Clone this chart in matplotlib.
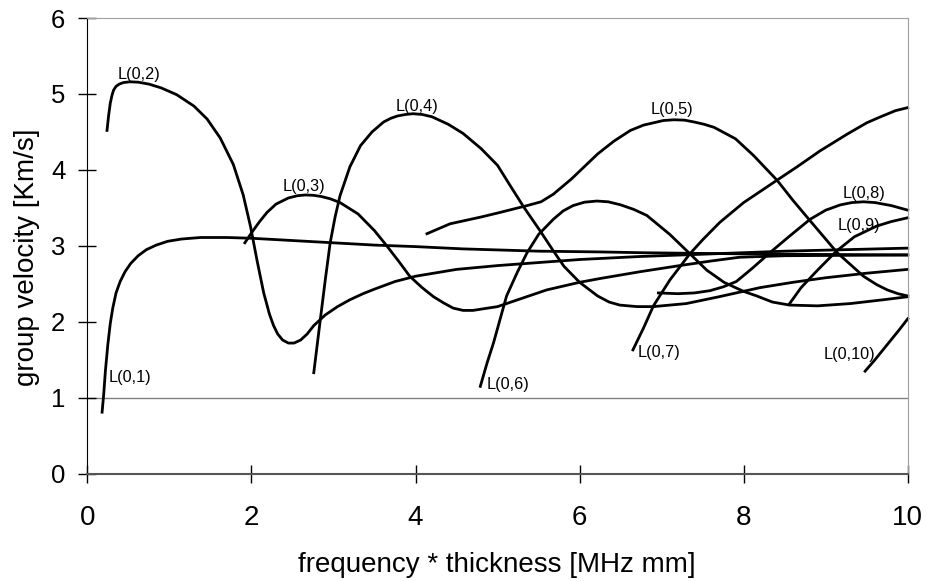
import matplotlib
matplotlib.use("Agg")
import matplotlib.pyplot as plt

plt.rcParams['font.family'] = ['Liberation Sans', 'DejaVu Sans']

# кривые групповой скорости, точки
x01 = [0.18, 0.2, 0.22, 0.25, 0.28, 0.31, 0.35, 0.4, 0.46, 0.53, 0.62, 0.72, 0.84, 0.98, 1.15, 1.38, 1.7, 2.0, 2.5, 3.0, 3.5, 4.0, 4.58, 5.5, 6.25, 6.74, 7.5, 8.5, 10]
y01 = [0.81, 1.05, 1.35, 1.7, 1.98, 2.18, 2.38, 2.53, 2.66, 2.77, 2.87, 2.95, 3.01, 3.06, 3.09, 3.11, 3.11, 3.10, 3.07, 3.04, 3.01, 2.99, 2.96, 2.93, 2.92, 2.91, 2.90, 2.89, 2.88]

x02 = [0.24, 0.26, 0.28, 0.30, 0.32, 0.35, 0.39, 0.44, 0.52, 0.62, 0.75, 0.9, 1.09, 1.3, 1.46, 1.62, 1.78, 1.9, 1.99, 2.07, 2.15, 2.22, 2.27, 2.32, 2.38, 2.45, 2.52, 2.6, 2.68, 2.76, 2.9, 3.05, 3.2, 3.3, 3.36, 3.5, 3.75, 4.0, 4.5, 5.0, 5.5, 6.0, 6.74, 7.5, 8.5, 10]
y02 = [4.52, 4.72, 4.88, 4.98, 5.05, 5.1, 5.13, 5.15, 5.16, 5.155, 5.13, 5.08, 4.99, 4.84, 4.67, 4.42, 4.07, 3.67, 3.25, 2.8, 2.38, 2.1, 1.95, 1.84, 1.76, 1.72, 1.72, 1.76, 1.84, 1.95, 2.09, 2.2, 2.29, 2.34, 2.37, 2.43, 2.53, 2.6, 2.69, 2.74, 2.78, 2.82, 2.86, 2.89, 2.93, 2.97]

x03 = [1.92, 2.0, 2.1, 2.19, 2.3, 2.45, 2.56, 2.66, 2.76, 2.85, 2.96, 3.08, 3.3, 3.5, 3.65, 3.8, 3.93, 4.08, 4.22, 4.34, 4.46, 4.58, 4.7, 4.82, 5.0, 5.11, 5.3, 5.6, 6.0, 6.25, 6.74, 7.22, 7.6, 7.95, 8.5, 10]
y03 = [3.04, 3.17, 3.32, 3.44, 3.55, 3.63, 3.66, 3.67, 3.665, 3.65, 3.62, 3.57, 3.42, 3.2, 3.0, 2.79, 2.6, 2.45, 2.33, 2.25, 2.18, 2.15, 2.15, 2.17, 2.2, 2.24, 2.31, 2.42, 2.52, 2.57, 2.66, 2.74, 2.8, 2.85, 2.87, 2.88]

x04 = [2.76, 2.8, 2.84, 2.9, 2.96, 3.02, 3.08, 3.2, 3.33, 3.47, 3.61, 3.7, 3.78, 3.88, 3.97, 4.08, 4.2, 4.4, 4.58, 4.8, 5.0, 5.15, 5.32, 5.53, 5.67, 5.81, 6.0, 6.22, 6.36, 6.49, 6.7, 6.9, 7.3, 7.7, 8.2, 8.6, 9.0, 9.5, 10]
y04 = [1.33, 1.68, 2.03, 2.55, 3.04, 3.38, 3.66, 4.04, 4.32, 4.5, 4.63, 4.68, 4.71, 4.73, 4.74, 4.73, 4.70, 4.6, 4.48, 4.28, 4.06, 3.8, 3.51, 3.18, 2.95, 2.73, 2.52, 2.34, 2.26, 2.22, 2.2, 2.20, 2.24, 2.33, 2.45, 2.52, 2.58, 2.64, 2.69]

x05 = [4.14, 4.42, 4.8, 5.03, 5.36, 5.53, 5.68, 5.9, 6.22, 6.42, 6.62, 6.78, 6.9, 7.02, 7.15, 7.28, 7.4, 7.52, 7.64, 7.9, 8.12, 8.41, 8.6, 8.81, 9.14, 9.46, 9.62, 9.75, 9.88, 10]
y05 = [3.16, 3.29, 3.38, 3.44, 3.53, 3.58, 3.68, 3.88, 4.21, 4.38, 4.52, 4.59, 4.62, 4.65, 4.66, 4.655, 4.63, 4.6, 4.56, 4.41, 4.19, 3.86, 3.6, 3.33, 2.91, 2.6, 2.49, 2.42, 2.37, 2.34]

x06 = [4.79, 4.87, 4.95, 5.03, 5.11, 5.24, 5.36, 5.5, 5.68, 5.8, 5.92, 6.06, 6.21, 6.35, 6.5, 6.66, 6.82, 7.1, 7.35, 7.55, 7.76, 8.0, 8.16, 8.35, 8.56, 8.9, 9.3, 9.7, 10]
y06 = [1.15, 1.45, 1.72, 2.03, 2.34, 2.65, 2.91, 3.15, 3.35, 3.46, 3.53, 3.575, 3.59, 3.58, 3.54, 3.48, 3.40, 3.15, 2.89, 2.68, 2.52, 2.40, 2.34, 2.26, 2.22, 2.21, 2.24, 2.29, 2.33]

x07 = [6.65, 6.78, 6.9, 7.1, 7.34, 7.5, 7.71, 8.0, 8.4, 8.65, 8.93, 9.26, 9.5, 9.67, 9.85, 10]
y07 = [1.63, 1.92, 2.21, 2.55, 2.89, 3.08, 3.31, 3.57, 3.86, 4.04, 4.25, 4.47, 4.62, 4.70, 4.78, 4.82]

x08 = [6.96, 7.2, 7.4, 7.59, 7.75, 7.91, 8.1, 8.32, 8.55, 8.81, 9.0, 9.18, 9.32, 9.46, 9.6, 9.8, 10]
y08 = [2.38, 2.37, 2.38, 2.41, 2.46, 2.53, 2.7, 2.91, 3.12, 3.35, 3.47, 3.54, 3.57, 3.58, 3.57, 3.53, 3.47]

x09 = [8.56, 8.7, 8.9, 9.13, 9.35, 9.62, 9.8, 10]
y09 = [2.24, 2.45, 2.68, 2.93, 3.12, 3.26, 3.32, 3.37]

x10 = [9.48, 9.6, 9.75, 9.9, 10]
y10 = [1.35, 1.5, 1.7, 1.9, 2.04]

# подписи мод: текст, x, y
labels = ["L(0,1)", "L(0,2)", "L(0,3)", "L(0,4)", "L(0,5)", "L(0,6)", "L(0,7)", "L(0,8)", "L(0,9)", "L(0,10)"]
label_x = [0.26, 0.37, 2.38, 3.76, 6.87, 4.87, 6.71, 9.20, 9.15, 8.97]
label_y = [1.27, 5.25, 3.78, 4.83, 4.80, 1.18, 1.60, 3.69, 3.27, 1.57]

fig = plt.figure(figsize=(9.28, 5.81), dpi=100)
ax = fig.add_axes([0.0941, 0.1847, 0.8841, 0.7843])

curves = [(x01, y01), (x02, y02), (x03, y03), (x04, y04), (x05, y05),
          (x06, y06), (x07, y07), (x08, y08), (x09, y09), (x10, y10)]
for cx, cy in curves:
    ax.plot(cx, cy, color='black', lw=2.0, solid_joinstyle='round', clip_on=False)

for t, lx, ly in zip(labels, label_x, label_y):
    ax.text(lx, ly, t, fontsize=11.7, ha='left', va='center')

ax.axhline(1, color='#808080', lw=1, zorder=0)

ax.set_xlim(0, 10)
ax.set_ylim(0, 6)
ax.set_xticks([0, 2, 4, 6, 8, 10])
ax.set_yticks([0, 1, 2, 3, 4, 5, 6])

ax.tick_params(axis='both', direction='inout', length=13, width=1)
ax.tick_params(axis='x', pad=16, labelsize=20)
ax.tick_params(axis='y', pad=9.3, labelsize=18.5)

ax.spines['left'].set_color('black')
ax.spines['bottom'].set_color('#555555')
ax.spines['bottom'].set_linewidth(1.5)
ax.spines['top'].set_color('#a0a0a0')
ax.spines['right'].set_color('#a0a0a0')

ax.set_xlabel("frequency * thickness [MHz mm]", fontsize=20)
ax.set_ylabel("group velocity [Km/s]", fontsize=20)
ax.xaxis.set_label_coords(0.499, -0.172)
ax.yaxis.set_label_coords(-0.058, 0.476)

fig.savefig("out.png", dpi=100)
